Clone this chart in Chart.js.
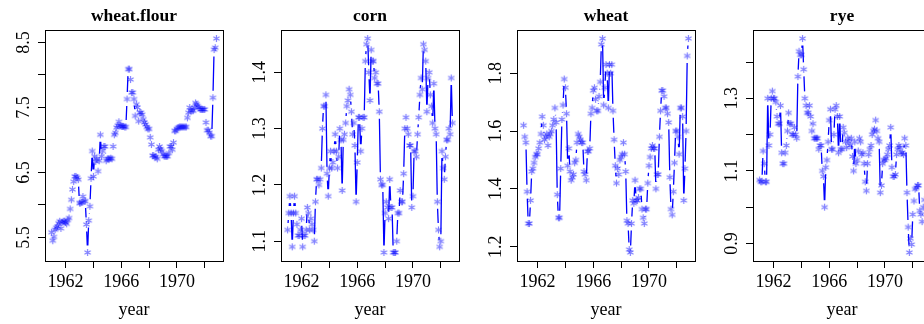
<!DOCTYPE html>
<html>
<head>
<meta charset="utf-8">
<script src="https://cdn.jsdelivr.net/npm/chart.js@4.4.1/dist/chart.umd.min.js"></script>
<style>
  html, body { margin: 0; padding: 0; background: #fff; width: 924px; height: 324px; overflow: hidden; }
  .panel { position: absolute; top: 0; width: 236px; height: 324px; }
</style>
</head>
<body>
<div class="panel" style="left:0px"><canvas id="c0" width="236" height="324"></canvas></div>
<div class="panel" style="left:236px"><canvas id="c1" width="236" height="324"></canvas></div>
<div class="panel" style="left:472px"><canvas id="c2" width="236" height="324"></canvas></div>
<div class="panel" style="left:708px"><canvas id="c3" width="236" height="324"></canvas></div>
<script>
// monthly prices, Jan 1961 onwards
const startYear = 1961;

const wheatFlour = [
  5.58, 5.45, 5.51, 5.62, 5.65, 5.67, 5.72, 5.75, 5.64, 5.73, 5.75, 5.75,
  5.73, 5.71, 5.77, 5.80, 5.94, 6.08, 6.24, 6.36, 6.44, 6.44, 6.42, 6.39,
  6.03, 6.03, 6.04, 6.13, 6.06, 6.06, 5.70, 5.27, 5.76, 5.98, 6.41, 6.83,
  6.44, 6.75, 6.67, 6.71, 6.52, 6.68, 7.08, 6.75, 6.83, 6.90, 6.90, 6.68,
  6.71, 6.71, 6.71, 6.72, 6.71, 6.90, 7.08, 7.11, 7.19, 7.22, 7.28, 7.22,
  7.21, 7.21, 7.21, 7.20, 7.20, 7.63, 8.09, 8.09, 7.93, 7.73, 7.73, 7.63,
  7.37, 7.55, 7.50, 7.29, 7.42, 7.42, 7.39, 7.32, 7.27, 7.24, 7.20, 7.17,
  7.17, 7.04, 6.93, 6.76, 6.76, 6.74, 6.74, 6.71, 6.85, 6.90, 6.86, 6.83,
  6.78, 6.75, 6.75, 6.75, 6.75, 6.80, 6.90, 6.90, 6.85, 6.96, 7.14, 7.14,
  7.17, 7.19, 7.20, 7.20, 7.20, 7.20, 7.20, 7.20, 7.20, 7.34, 7.42, 7.50,
  7.45, 7.45, 7.45, 7.50, 7.57, 7.55, 7.52, 7.50, 7.47, 7.47, 7.47, 7.47,
  7.47, 7.27, 7.15, 7.15, 7.11, 7.06, 7.06, 7.65, 8.39, 8.42, 8.56
];

const corn = [
  1.12, 1.15, 1.18, 1.15, 1.09, 1.15, 1.18, 1.15, 1.13, 1.11, 1.11, 1.12,
  1.14, 1.09, 1.11, 1.11, 1.12, 1.16, 1.15, 1.12, 1.14, 1.13, 1.12, 1.10,
  1.17, 1.21, 1.21, 1.20, 1.21, 1.23, 1.30, 1.34, 1.34, 1.36, 1.22, 1.18,
  1.23, 1.26, 1.23, 1.24, 1.26, 1.29, 1.26, 1.23, 1.25, 1.30, 1.28, 1.19,
  1.28, 1.29, 1.31, 1.34, 1.35, 1.37, 1.36, 1.33, 1.29, 1.31, 1.27, 1.17,
  1.24, 1.32, 1.32, 1.26, 1.30, 1.32, 1.32, 1.42, 1.45, 1.46, 1.40, 1.35,
  1.44, 1.42, 1.42, 1.39, 1.40, 1.38, 1.38, 1.33, 1.21, 1.20, 1.20, 1.08,
  1.15, 1.17, 1.16, 1.14, 1.21, 1.16, 1.16, 1.08, 1.08, 1.08, 1.10, 1.15,
  1.15, 1.19, 1.17, 1.17, 1.22, 1.30, 1.32, 1.30, 1.29, 1.27, 1.27, 1.16,
  1.18, 1.26, 1.26, 1.25, 1.29, 1.32, 1.36, 1.39, 1.37, 1.45, 1.44, 1.42,
  1.33, 1.39, 1.40, 1.36, 1.34, 1.31, 1.38, 1.30, 1.29, 1.17, 1.12, 1.09,
  1.10, 1.26, 1.23, 1.21, 1.25, 1.28, 1.28, 1.30, 1.29, 1.39, 1.31
];

const wheat = [
  1.62, 1.58, 1.56, 1.39, 1.28, 1.28, 1.36, 1.46, 1.47, 1.49, 1.51, 1.52,
  1.52, 1.54, 1.56, 1.59, 1.65, 1.62, 1.57, 1.58, 1.59, 1.55, 1.58, 1.59,
  1.60, 1.62, 1.64, 1.68, 1.63, 1.38, 1.30, 1.30, 1.47, 1.64, 1.69, 1.78,
  1.75, 1.66, 1.48, 1.54, 1.46, 1.43, 1.44, 1.45, 1.49, 1.50, 1.56, 1.59,
  1.58, 1.57, 1.56, 1.56, 1.46, 1.45, 1.43, 1.53, 1.53, 1.54, 1.66, 1.68,
  1.74, 1.75, 1.71, 1.67, 1.67, 1.72, 1.77, 1.90, 1.92, 1.69, 1.75, 1.83,
  1.80, 1.68, 1.83, 1.80, 1.83, 1.67, 1.57, 1.48, 1.42, 1.47, 1.45, 1.50,
  1.51, 1.52, 1.56, 1.52, 1.46, 1.29, 1.28, 1.19, 1.18, 1.28, 1.36, 1.35,
  1.43, 1.36, 1.36, 1.37, 1.40, 1.40, 1.33, 1.30, 1.28, 1.33, 1.33, 1.42,
  1.48, 1.51, 1.54, 1.55, 1.54, 1.54, 1.40, 1.45, 1.45, 1.58, 1.67, 1.74,
  1.74, 1.72, 1.68, 1.68, 1.66, 1.63, 1.44, 1.33, 1.31, 1.39, 1.49, 1.60,
  1.60, 1.58, 1.52, 1.68, 1.68, 1.65, 1.36, 1.47, 1.60, 1.86, 1.92
];

const rye = [
  1.075, 1.07, 1.07, 1.155, 1.12, 1.07, 1.07, 1.30, 1.17, 1.20, 1.30, 1.32,
  1.30, 1.30, 1.29, 1.25, 1.23, 1.23, 1.28, 1.15, 1.12, 1.12, 1.15, 1.17,
  1.21, 1.26, 1.23, 1.23, 1.20, 1.20, 1.22, 1.20, 1.19, 1.36, 1.43, 1.42,
  1.42, 1.465, 1.38, 1.30, 1.28, 1.26, 1.26, 1.28, 1.25, 1.21, 1.23, 1.19,
  1.19, 1.19, 1.19, 1.16, 1.17, 1.17, 1.10, 1.085, 1.00, 1.11, 1.13, 1.18,
  1.24, 1.27, 1.16, 1.16, 1.20, 1.27, 1.28, 1.25, 1.15, 1.25, 1.16, 1.16,
  1.22, 1.205, 1.18, 1.164, 1.19, 1.18, 1.17, 1.19, 1.14, 1.10, 1.18, 1.12,
  1.13, 1.155, 1.19, 1.18, 1.145, 1.15, 1.12, 1.07, 1.045, 1.12, 1.145, 1.16,
  1.17, 1.20, 1.21, 1.215, 1.24, 1.21, 1.19, 1.18, 1.04, 1.06, 1.12, 1.13,
  1.13, 1.135, 1.145, 1.16, 1.17, 1.22, 1.11, 1.085, 1.085, 1.09, 1.145, 1.16,
  1.17, 1.165, 1.15, 1.15, 1.145, 1.19, 1.17, 1.04, 0.945, 0.875, 0.913, 0.897,
  0.98, 1.017, 1.05, 1.053, 1.06, 1.06, 0.99, 0.98, 0.96, 1.00, 1.02
];

const xTicks = [1962, 1964, 1966, 1968, 1970, 1972];
const xTickLabels = [1962, 1966, 1970];

const flourTicks = [5.5, 6, 6.5, 7, 7.5, 8, 8.5];
const flourTickLabels = ['5.5', '6.5', '7.5', '8.5'];
const cornTicks = [1.1, 1.2, 1.3, 1.4];
const cornTickLabels = ['1.1', '1.2', '1.3', '1.4'];
const wheatTicks = [1.2, 1.4, 1.6, 1.8];
const wheatTickLabels = ['1.2', '1.4', '1.6', '1.8'];
const ryeTicks = [0.9, 1.0, 1.1, 1.2, 1.3, 1.4];
const ryeTickLabels = ['0.9', '1.1', '1.3'];

const years = wheatFlour.map((_, i) => startYear + i / 12);

// R pads the data range by 4% on each side
function padRange(v) {
  const lo = Math.min(...v), hi = Math.max(...v), e = (hi - lo) * 0.04;
  return [lo - e, hi + e];
}

const serif = '"Liberation Serif", "Times New Roman", serif';
const GAP = 7;

// the "*" plotting character
function makeStar() {
  const c = document.createElement('canvas');
  c.width = 9; c.height = 9;
  const g = c.getContext('2d');
  g.strokeStyle = 'rgba(0, 0, 255, 0.5)';
  g.lineWidth = 1.2;
  g.beginPath();
  for (let k = 0; k < 3; k++) {
    const a = Math.PI / 2 + k * Math.PI / 3;
    g.moveTo(4.5 + 3.6 * Math.cos(a), 4.5 + 3.6 * Math.sin(a));
    g.lineTo(4.5 - 3.6 * Math.cos(a), 4.5 - 3.6 * Math.sin(a));
  }
  g.stroke();
  return c;
}
const star = makeStar();

// type = "b": line segments broken around each point
const gappedLine = {
  id: 'gappedLine',
  beforeDatasetsDraw(chart) {
    const pts = chart.getDatasetMeta(0).data;
    const a = chart.chartArea;
    const ctx = chart.ctx;
    ctx.save();
    ctx.beginPath();
    ctx.rect(a.left, a.top, a.right - a.left, a.bottom - a.top);
    ctx.clip();
    ctx.strokeStyle = '#0000ff';
    ctx.lineWidth = 1.3;
    ctx.beginPath();
    for (let i = 1; i < pts.length; i++) {
      const p = pts[i - 1], q = pts[i];
      const dx = q.x - p.x, dy = q.y - p.y, d = Math.hypot(dx, dy);
      if (d <= 2 * GAP) continue;
      const f = GAP / d;
      ctx.moveTo(p.x + f * dx, p.y + f * dy);
      ctx.lineTo(q.x - f * dx, q.y - f * dy);
    }
    ctx.stroke();
    ctx.restore();
  }
};

// box, main title and the vertical y tick labels
const frame = {
  id: 'frame',
  afterDraw(chart, args, opts) {
    const { ctx, chartArea: a } = chart;
    const ys = chart.scales.y;
    ctx.save();
    ctx.strokeStyle = '#000';
    ctx.lineWidth = 1;
    ctx.strokeRect(Math.round(a.left) + 0.5, Math.round(a.top) + 0.5,
                   Math.round(a.right - a.left), Math.round(a.bottom - a.top));
    ctx.fillStyle = '#000';
    ctx.textAlign = 'center';
    ctx.textBaseline = 'middle';
    ctx.font = 'bold 17.5px ' + serif;
    ctx.fillText(opts.title, (a.left + a.right) / 2, 16);
    ctx.font = '18px ' + serif;
    opts.labels.forEach(t => {
      const y = ys.getPixelForValue(parseFloat(t));
      ctx.save();
      ctx.translate(24, y);
      ctx.rotate(-Math.PI / 2);
      ctx.fillText(t, 0, 0);
      ctx.restore();
    });
    ctx.restore();
  }
};

const panels = [
  { id: 'c0', title: 'wheat.flour', values: wheatFlour, ticks: flourTicks, labels: flourTickLabels },
  { id: 'c1', title: 'corn', values: corn, ticks: cornTicks, labels: cornTickLabels },
  { id: 'c2', title: 'wheat', values: wheat, ticks: wheatTicks, labels: wheatTickLabels },
  { id: 'c3', title: 'rye', values: rye, ticks: ryeTicks, labels: ryeTickLabels }
];

const xRange = padRange(years);

panels.forEach(p => {
  const yRange = padRange(p.values);
  new Chart(document.getElementById(p.id), {
    type: 'scatter',
    data: {
      datasets: [{
        data: p.values.map((v, i) => ({ x: years[i], y: v })),
        showLine: false,
        pointStyle: star,
        pointRadius: 4,
        clip: false
      }]
    },
    options: {
      responsive: false,
      animation: false,
      devicePixelRatio: 1,
      events: [],
      layout: { padding: { left: 0, top: 30, right: 13, bottom: 0 } },
      plugins: {
        legend: { display: false },
        tooltip: { enabled: false },
        frame: { title: p.title, labels: p.labels }
      },
      scales: {
        x: {
          type: 'linear',
          min: xRange[0],
          max: xRange[1],
          afterBuildTicks: s => { s.ticks = xTicks.map(v => ({ value: v })); },
          afterFit: s => { s.height = 63; },
          grid: { drawOnChartArea: false, drawTicks: true, tickLength: 7, color: '#000', lineWidth: 1 },
          border: { display: true, color: '#000', width: 1 },
          ticks: {
            color: '#000',
            font: { family: serif, size: 18 },
            padding: 3,
            maxRotation: 0,
            autoSkip: false,
            callback: v => xTickLabels.includes(v) ? String(v) : ''
          },
          title: {
            display: true,
            text: 'year',
            color: '#000',
            font: { family: serif, size: 18 },
            padding: { top: 0, bottom: 3 }
          }
        },
        y: {
          type: 'linear',
          min: yRange[0],
          max: yRange[1],
          afterBuildTicks: s => { s.ticks = p.ticks.map(v => ({ value: v })); },
          afterFit: s => { s.width = 45; },
          grid: { drawOnChartArea: false, drawTicks: true, tickLength: 7, color: '#000', lineWidth: 1 },
          border: { display: true, color: '#000', width: 1 },
          ticks: { display: false }
        }
      }
    },
    plugins: [gappedLine, frame]
  });
});
</script>
</body>
</html>
